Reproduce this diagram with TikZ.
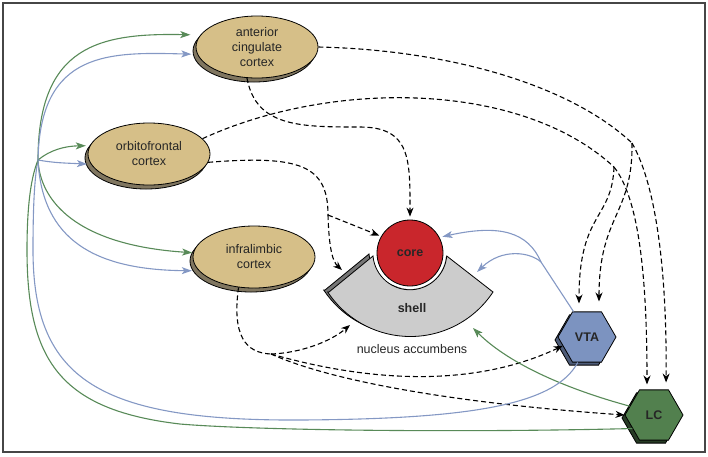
\documentclass[tikz,border=0pt]{standalone}
\usepackage{fontspec}
\setmainfont{Liberation Sans}
\usetikzlibrary{shapes.geometric,shadows,arrows.meta}

\definecolor{cortexfill}{RGB}{214,191,136}
\definecolor{cortexshade}{RGB}{128,118,96}
\definecolor{corefill}{RGB}{201,38,44}
\definecolor{shellfill}{RGB}{204,204,204}
\definecolor{shellshade}{RGB}{118,118,118}
\definecolor{vtafill}{RGB}{124,147,192}
\definecolor{vtashade}{RGB}{78,92,120}
\definecolor{lcfill}{RGB}{82,128,78}
\definecolor{lcshade}{RGB}{38,58,36}
\definecolor{vtaline}{RGB}{132,152,196}
\definecolor{lcline}{RGB}{88,138,88}
\definecolor{framegray}{RGB}{70,70,70}

\begin{document}
\begin{tikzpicture}[x=1pt,y=-1pt]
    \tikzstyle{every node}=[font=\fontsize{12.5}{15}\selectfont, text=black!85]
    \tikzstyle{cortex}=[ellipse, fill=cortexfill, draw=black, line width=0.8pt, minimum width=122pt, minimum height=62pt, inner sep=0pt, align=center,
        general shadow={fill=cortexshade, draw=black, line width=0.8pt, shadow xshift=-3pt, shadow yshift=-4pt}]
    \tikzstyle{nucleus}=[regular polygon, regular polygon sides=6, minimum size=58pt, inner sep=0pt, draw=black, line width=0.8pt, font=\bfseries\fontsize{12.5}{15}\selectfont]
    \tikzstyle{dashproj}=[black, line width=1.1pt, dash pattern=on 5pt off 3pt, -{Stealth[length=9pt,width=7pt]}]
    \tikzstyle{vtaproj}=[vtaline, line width=1.1pt, -{Stealth[length=10pt,width=7pt,inset=2.5pt]}]
    \tikzstyle{lcproj}=[lcline, line width=1.1pt, -{Stealth[length=10pt,width=7pt,inset=2.5pt]}]

    \useasboundingbox (0,0) rectangle (708,456);
    \draw[framegray, line width=2pt] (3,3) rectangle (705,452);

    % nucleus accumbens
    \foreach \dx/\dy/\col in {-4/-2/shellshade, 0/0/shellfill}
        \draw[fill=\col, draw=black, line width=0.8pt, shift={(\dx,\dy)}]
            (329,292) -- (373,256) arc[start angle=175, end angle=5, radius=37]
            -- (493,292) arc[start angle=33.4, end angle=146.6, radius=99] -- cycle;
    \node[circle, minimum size=66pt, inner sep=0pt, fill=corefill, draw=black, line width=0.8pt,
        preaction={draw=white, line width=6pt}, font=\bfseries\fontsize{12.5}{15}\selectfont] (core) at (410,253) {core};
    \node[font=\bfseries\fontsize{12.5}{15}\selectfont] (shell) at (412,308) {shell};
    \node (accumbens) at (412,349) {nucleus accumbens};

    \node[cortex] (acc) at (257,47) {anterior\\cingulate\\cortex};
    \node[cortex] (ofc) at (149,154) {orbitofrontal\\cortex};
    \node[cortex] (il) at (254,257) {infralimbic\\cortex};

    \node[nucleus, fill=vtafill, general shadow={fill=vtashade, draw=black, line width=0.8pt, shadow xshift=-3pt, shadow yshift=-3pt}] (vta) at (587,337) {VTA};
    \node[nucleus, fill=lcfill, general shadow={fill=lcshade, draw=black, line width=0.8pt, shadow xshift=-3pt, shadow yshift=-3pt}] (lc) at (654,415) {LC};

    \coordinate (acckink) at (632,143);
    \coordinate (ofckink) at (614,167);
    \coordinate (ofcsplit) at (328,215);
    \coordinate (ilsplit) at (271,354);
    \coordinate (vtasplit) at (541,262);
    \coordinate (fan) at (38,160);
    \coordinate (shellwest) at (342,270);
    \coordinate (shellsouthwest) at (350,325);
    \coordinate (shelleast) at (477,272);
    \coordinate (shellsoutheast) at (473,328);

    % cortical projections
    \draw[dashproj, -] (acc.east) .. controls (450,50) and (570,85) .. (acckink);
    \draw[dashproj, shorten >=10pt] (acckink) .. controls (633,215) and (599,215) .. ([xshift=12pt]vta.north);
    \draw[dashproj, shorten >=7pt] (acckink) .. controls (656,185) and (667,270) .. ([xshift=12pt]lc.north);
    \draw[dashproj, -] (ofc.16) .. controls (330,80) and (520,80) .. (ofckink);
    \draw[dashproj, shorten >=8pt] (ofckink) .. controls (612,220) and (579,212) .. ([xshift=-8pt]vta.north);
    \draw[dashproj, shorten >=5pt] (ofckink) .. controls (636,195) and (647,260) .. ([xshift=-7pt]lc.north);
    \draw[dashproj, shorten >=3pt] (acc.252) .. controls (256,127) and (300,127) .. (360,127) .. controls (411,127) and (410,160) .. (core.north);
    \draw[dashproj, -] (ofc.-8) .. controls (300,155) and (328,165) .. (ofcsplit);
    \draw[dashproj, shorten >=2pt] (ofcsplit) -- (core.150);
    \draw[dashproj] (ofcsplit) .. controls (329,250) and (333,262) .. (shellwest);
    \draw[dashproj, -] (il.243) .. controls (232,335) and (245,353) .. (ilsplit);
    \draw[dashproj] (ilsplit) .. controls (300,353) and (330,342) .. (shellsouthwest);
    \draw[dashproj] (ilsplit) .. controls (380,385) and (480,385) .. (vta.200);
    \draw[dashproj] (ilsplit) .. controls (340,385) and (480,405) .. (lc.west);

    % VTA and LC projections
    \draw[vtaproj, -] (vta.118) -- (vtasplit);
    \draw[vtaproj, shorten >=3pt] (vtasplit) .. controls (528,232) and (500,224) .. (core.28);
    \draw[vtaproj] (vtasplit) .. controls (530,252) and (502,248) .. (shelleast);
    \draw[lcproj] (lc.160) .. controls (570,390) and (510,365) .. (shellsoutheast);
    \draw[vtaproj, -] (vta.-110) .. controls (555,405) and (470,419) .. (300,420) .. controls (100,421) and (33,380) .. (33,250) .. controls (33,200) and (35,175) .. (fan);
    \draw[lcproj, -] (lc.-148) .. controls (450,433) and (250,430) .. (180,424) .. controls (60,410) and (27,360) .. (27,250) .. controls (27,200) and (32,175) .. (fan);
    \draw[lcproj, shorten >=10pt] (fan) .. controls (38,45) and (100,33) .. (acc.168);
    \draw[vtaproj, shorten >=6pt] (fan) .. controls (40,50) and (110,52) .. (acc.187);
    \draw[lcproj, shorten >=4pt] (fan) .. controls (50,150) and (65,146) .. (ofc.172);
    \draw[vtaproj, shorten >=4pt] (fan) .. controls (55,163) and (65,163) .. (ofc.190);
    \draw[lcproj, shorten >=1pt] (fan) .. controls (40,200) and (75,245) .. (il.176);
    \draw[vtaproj, shorten >=7pt] (fan) .. controls (42,240) and (95,270) .. (il.194);
\end{tikzpicture}
\end{document}
